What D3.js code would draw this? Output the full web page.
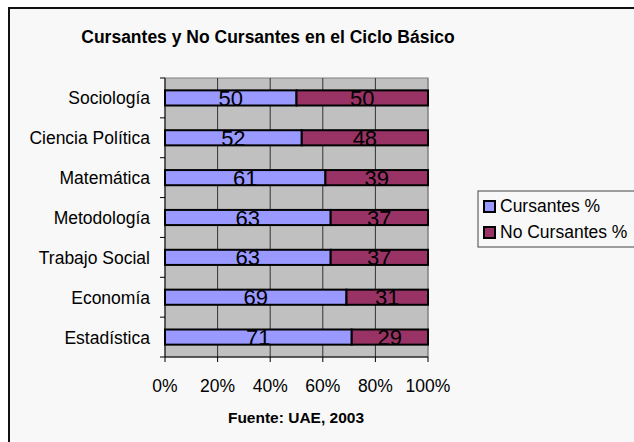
<!DOCTYPE html>
<html><head><meta charset="utf-8">
<script src="https://cdn.jsdelivr.net/npm/d3@7"></script>
<style>body{margin:0;background:#fff}svg{display:block;font-family:"Liberation Sans",Arial,sans-serif}</style>
</head><body><svg id="c" width="634" height="442"></svg>
<script>
const categories = ["Sociología","Ciencia Política","Matemática","Metodología","Trabajo Social","Economía","Estadística"];
const cursantes = [50,52,61,63,63,69,71];
const noCursantes = [50,48,39,37,37,31,29];
const seriesNames = ["Cursantes %","No Cursantes %"];
const colors = ["#9999ff","#993366"];
const xTicks = [0,20,40,60,80,100];

const svg = d3.select("#c");
svg.append("rect").attr("x",9).attr("y",8).attr("width",640).attr("height",450)
  .attr("fill","#f8f8f8").attr("stroke","#111").attr("stroke-width",2);

const L=165,R=428,T=78,B=357;
const x = d3.scaleLinear().domain([0,100]).range([L,R]);
const y = d3.scaleBand().domain(categories).range([T,B]).paddingInner(0.62).paddingOuter(0.31);
const yb = d3.scaleBand().domain(categories).range([T,B]);

svg.append("rect").attr("x",L).attr("y",T).attr("width",R-L).attr("height",B-T).attr("fill","#c0c0c0").attr("stroke","#808080");
svg.append("g").selectAll("line").data(xTicks.slice(1)).join("line")
  .attr("x1",d=>x(d)).attr("x2",d=>x(d)).attr("y1",T).attr("y2",B)
  .attr("stroke",d=>d===100?"#808080":"#333").attr("stroke-width",1);

svg.append("text").attr("x",268).attr("y",43).attr("text-anchor","middle")
  .attr("font-weight","bold").attr("font-size",17.5).text("Cursantes y No Cursantes en el Ciclo Básico");

const stack = categories.map((c,i)=>({c, vals:[cursantes[i],noCursantes[i]]}));
const g = svg.append("g");
stack.forEach(s=>{
  let acc=0;
  s.vals.forEach((v,j)=>{
    g.append("rect").attr("x",x(acc)).attr("y",y(s.c)).attr("width",x(acc+v)-x(acc)).attr("height",y.bandwidth())
      .attr("fill",colors[j]).attr("stroke","#000").attr("stroke-width",2);
    acc+=v;
  });
});
stack.forEach(s=>{
  let acc=0;
  s.vals.forEach((v,j)=>{
    g.append("text").attr("x",x(acc+v/2)).attr("y",y(s.c)+y.bandwidth()/2+8)
      .attr("text-anchor","middle").attr("font-size",22).attr("fill","#000").text(v);
    acc+=v;
  });
});

// y axis
const ya = svg.append("g");
ya.append("line").attr("x1",L).attr("x2",L).attr("y1",T).attr("y2",B).attr("stroke","#000");
const bounds = categories.map(c=>yb(c)).concat([B]);
ya.selectAll(".t").data(bounds).join("line").attr("x1",L-5).attr("x2",L).attr("y1",d=>d).attr("y2",d=>d).attr("stroke","#000");
ya.selectAll("text").data(categories).join("text").attr("x",150).attr("y",d=>yb(d)+yb.bandwidth()/2+6.5)
  .attr("text-anchor","end").attr("font-size",17.5).text(d=>d);

// x axis
const xa = svg.append("g");
xa.append("line").attr("x1",L).attr("x2",R).attr("y1",B).attr("y2",B).attr("stroke","#000");
xa.selectAll("line.t").data(xTicks).join("line").attr("class","t").attr("x1",d=>x(d)).attr("x2",d=>x(d)).attr("y1",B).attr("y2",B+5).attr("stroke","#000");
xa.selectAll("text").data(xTicks).join("text").attr("x",d=>x(d)).attr("y",392).attr("text-anchor","middle").attr("font-size",17.5).text(d=>d+"%");

svg.append("text").attr("x",296).attr("y",423).attr("text-anchor","middle").attr("font-weight","bold").attr("font-size",15.5).text("Fuente: UAE, 2003");

// legend
const lg = svg.append("g");
lg.append("rect").attr("x",478).attr("y",191).attr("width",170).attr("height",56).attr("fill","#f8f8f8").attr("stroke","#444");
seriesNames.forEach((n,i)=>{
  lg.append("rect").attr("x",484).attr("y",201+i*26).attr("width",11).attr("height",11).attr("fill",colors[i]).attr("stroke","#000").attr("stroke-width",2);
  lg.append("text").attr("x",500).attr("y",212+i*26).attr("font-size",17.5).text(n);
});
</script></body></html>
